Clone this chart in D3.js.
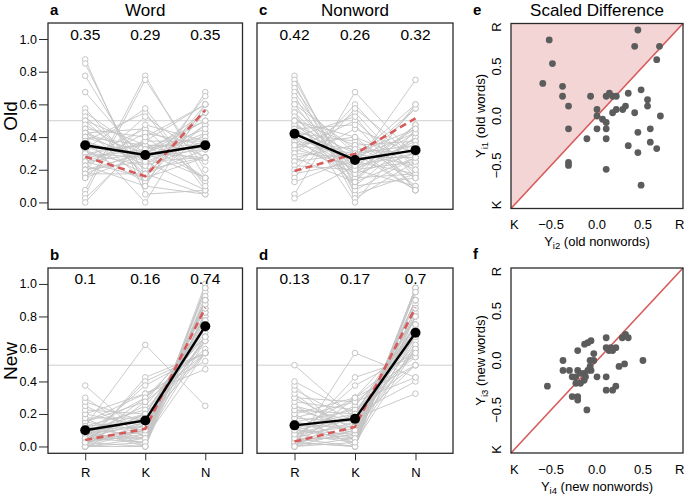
<!DOCTYPE html>
<html><head><meta charset="utf-8">
<script src="https://cdn.jsdelivr.net/npm/d3@7"></script>
<style>body{margin:0;background:#fff}svg{display:block;font-family:"Liberation Sans",Arial,Helvetica,sans-serif}</style>
</head><body><svg id="c" width="685" height="494"></svg>
<script>
// ---------- DATA ----------
const categories = ["R", "K", "N"];
const yTicks = [0, 0.2, 0.4, 0.6, 0.8, 1.0];

// Old words (panel a), per participant
const oldWordR = [.875,.85,.775,.675,.575,.55,.525,.5,.5,.475,.45,.45,.425,.425,.425,.4,.4,.4,.375,.375,.35,.35,.325,.325,.325,.3,.3,.3,.275,.275,.25,.25,.25,.225,.225,.2,.2,.2,.175,.175,.15,.15,.075,.05,.025,0];
const oldWordK = [.05,.1,.175,.25,.15,.3,.2,.35,.175,.25,.4,.125,.3,.225,.45,.35,0,.275,.55,.25,.3,.175,.575,.35,.125,.275,.35,.225,.325,.45,.375,.15,.3,.425,.1,.525,.3,.25,.325,.175,.475,.3,.775,.75,.375,.4];
const oldWordN = [.075,.05,.05,.075,.275,.15,.275,.15,.325,.275,.15,.425,.275,.35,.125,.25,.6,.325,.075,.375,.35,.475,.1,.325,.55,.425,.35,.475,.4,.275,.375,.6,.45,.35,.675,.275,.5,.55,.5,.65,.375,.55,.15,.2,.6,.6];
// Old nonwords (panel c)
const oldNonR = [.775,.75,.725,.7,.675,.65,.625,.6,.575,.55,.55,.525,.5,.5,.475,.475,.45,.45,.425,.425,.4,.4,.375,.375,.35,.35,.325,.325,.3,.3,.275,.275,.25,.25,.225,.2,.175,.15,.125,.05,.025,.6,.5,.45,.4,.35];
const oldNonK = [.05,.1,.025,.2,.15,.075,.3,.125,.25,0,.2,.175,.35,.1,.225,.3,.275,.15,.2,.375,.25,.125,.325,.2,.4,.175,.225,.5,.275,.55,.35,.125,.3,.45,.2,.6,.25,.575,.275,.675,.225,.325,.4,.475,.525,.3];
const oldNonN = [.175,.15,.25,.1,.175,.275,.075,.275,.175,.45,.25,.3,.15,.4,.3,.225,.275,.4,.375,.2,.35,.475,.3,.425,.25,.475,.45,.175,.425,.15,.375,.6,.45,.3,.575,.2,.575,.275,.6,.275,.75,.075,.1,.075,.075,.35];
// New words (panel b)
const newWordR = [0,0,0,.025,.025,.025,.05,.05,.05,.05,.075,.075,.075,.075,.1,.1,.1,.1,.125,.125,.125,.15,.15,.15,.175,.175,.2,.2,.225,.25,.275,.3,.375,0,.025,.05,.025,0,0,.025,.075,.05,.125,.1,0,.025];
const newWordK = [.025,.05,0,0,.1,.075,.05,.15,.2,.1,.125,.025,.25,.175,.075,.2,.3,.125,.05,.225,.15,.1,.275,.325,.175,0,.125,.325,.2,.075,.15,.05,.05,.425,.4,.375,.3,.275,.15,.125,.05,.025,.625,0,.1,.2];
const newWordN = [.975,.95,1,.975,.875,.9,.9,.8,.75,.85,.8,.9,.675,.75,.825,.7,.6,.775,.825,.65,.725,.75,.575,.525,.65,.825,.675,.475,.575,.675,.575,.65,.575,.575,.575,.575,.675,.725,.85,.85,.875,.925,.25,.9,.9,.775];
// New nonwords (panel d)
const newNonR = [0,0,.025,.025,.025,.05,.05,.05,.075,.075,.075,.1,.1,.1,.125,.125,.15,.15,.15,.175,.175,.2,.2,.225,.225,.25,.25,.275,.3,.3,.325,.35,.375,.4,.5,0,.025,.05,0,.025,0,.05,.075,.1,.125,0];
const newNonK = [.025,.05,0,.1,.075,.05,.15,.2,.125,.025,.25,.175,.075,.3,.2,.125,.05,.225,.1,.275,.15,0,.3,.2,.125,.075,.15,.225,.1,.275,.05,.15,.025,.2,.175,.575,.425,.375,.3,0,.1,0,.175,.05,.025,.2];
const newNonN = [.975,.95,.975,.875,.9,.9,.8,.75,.8,.9,.675,.725,.825,.6,.675,.75,.8,.625,.75,.55,.675,.8,.5,.575,.65,.675,.6,.5,.6,.425,.625,.5,.6,.4,.325,.425,.55,.575,.7,.975,.9,.95,.75,.85,.85,.8];

// Group means (black) and red dashed summary
const meanOldWord = [0.35, 0.29, 0.35];
const meanOldNon  = [0.42, 0.26, 0.32];
const meanNewWord = [0.10, 0.16, 0.74];
const meanNewNon  = [0.13, 0.17, 0.70];
const labelOldWord = ["0.35", "0.29", "0.35"];
const labelOldNon  = ["0.42", "0.26", "0.32"];
const labelNewWord = ["0.1", "0.16", "0.74"];
const labelNewNon  = ["0.13", "0.17", "0.7"];
const redOldWord = [0.28, 0.16, 0.565];
const redOldNon  = [0.193, 0.297, 0.515];
const redNewWord = [0.04, 0.108, 0.854];
const redNewNon  = [0.03, 0.12, 0.855];

// Scaled differences
const scTicks = [-0.9, -0.5, 0, 0.5, 0.9];
const scTickLabels = ["K", "\u22120.5", "0.0", "0.5", "R"];
const eX = [-0.52,0.445,0.41,0.68,0.65,-0.485,-0.59,-0.375,-0.375,-0.31,-0.31,-0.07,0,0,0,-0.11,-0.31,-0.31,0.06,0.10,0.10,0.10,0.10,0.10,0.135,0.17,0.21,0.17,0.21,0.28,0.31,0.34,0.34,0.41,0.445,0.445,0.48,0.55,0.55,0.69,0.58,0.58,0.65,0.48];
const eY = [0.77,0.87,0.705,0.705,0.57,0.53,0.33,0.30,0.20,0.10,-0.13,0.20,0.066,0,-0.13,-0.23,-0.47,-0.50,-0.033,-0.066,-0.13,-0.23,-0.54,0.20,0.23,0.20,0.20,0.033,0.066,0.066,0.10,0.23,-0.30,0.033,-0.165,-0.37,0.265,0.165,0.10,0,-0.13,-0.265,-0.33,-0.70];
const fX = [-0.54,-0.37,-0.37,-0.30,-0.27,-0.23,-0.21,-0.21,-0.27,-0.21,-0.21,-0.23,-0.18,-0.14,-0.14,-0.125,-0.18,-0.11,-0.135,-0.10,-0.065,-0.075,-0.035,-0.035,-0.075,-0.10,-0.065,0,0.10,0.10,0.10,0.10,0.17,0.205,0.13,0.17,0.205,0.24,0.275,0.31,0.34,0.30,0.50,0.15];
const fY = [-0.26,0,-0.10,-0.10,-0.165,-0.165,-0.10,0.10,-0.365,-0.365,-0.40,-0.23,-0.23,-0.20,-0.13,-0.165,-0.13,-0.50,0.165,0.18,0.20,0,0.07,0,-0.06,-0.10,-0.10,-0.165,0.23,0.13,-0.165,-0.30,-0.30,-0.26,0.10,0.10,0.13,-0.06,0.23,0.265,0.23,-0.035,0,0.13];

// ---------- DRAW ----------
const svg = d3.select("#c");
const GRAY = "#c4c4c4", RED = "#d75a5a", BOX = "#2b2b2b";

function linePanel(o) {
  const x = d3.scaleLinear().domain([0.38, 3.62]).range([o.x0, o.x1]);
  const y = d3.scaleLinear().domain([-0.042, 1.098]).range([o.y1, o.y0]);
  const g = svg.append("g");
  const clip = "clip" + o.id;
  g.append("clipPath").attr("id", clip).append("rect")
    .attr("x", o.x0).attr("y", o.y0).attr("width", o.x1 - o.x0).attr("height", o.y1 - o.y0);
  const inner = g.append("g").attr("clip-path", `url(#${clip})`);
  inner.append("line").attr("x1", o.x0).attr("x2", o.x1).attr("y1", y(0.5)).attr("y2", y(0.5))
    .attr("stroke", "#cfcfcf").attr("stroke-width", 1);
  const parts = o.R.map((r, i) => [r, o.K[i], o.N[i]]);
  const line = d3.line().x((d, i) => x(i + 1)).y(d => y(d));
  inner.selectAll("path.p").data(parts).join("path").attr("d", line)
    .attr("fill", "none").attr("stroke", GRAY).attr("stroke-width", 0.9);
  parts.forEach(p => {
    inner.selectAll(null).data(p).join("circle")
      .attr("cx", (d, i) => x(i + 1)).attr("cy", d => y(d)).attr("r", 2.8)
      .attr("fill", "#fff").attr("stroke", "#bdbdbd").attr("stroke-width", 0.9);
  });
  inner.append("path").datum(o.red).attr("d", line).attr("fill", "none")
    .attr("stroke", RED).attr("stroke-width", 2.6).attr("stroke-dasharray", "7,4.5");
  inner.append("path").datum(o.mean).attr("d", line).attr("fill", "none")
    .attr("stroke", "#000").attr("stroke-width", 2.4);
  inner.selectAll("circle.m").data(o.mean).join("circle").attr("class", "m")
    .attr("cx", (d, i) => x(i + 1)).attr("cy", d => y(d)).attr("r", 5).attr("fill", "#000");
  g.selectAll("text.lab").data(o.labels).join("text").attr("class", "lab")
    .attr("x", (d, i) => x(i + 1)).attr("y", y(1.0) + 0.5).attr("text-anchor", "middle")
    .attr("font-size", 15.5).attr("fill", "#000").text(d => d);
  g.append("rect").attr("x", o.x0).attr("y", o.y0).attr("width", o.x1 - o.x0).attr("height", o.y1 - o.y0)
    .attr("fill", "none").attr("stroke", BOX).attr("stroke-width", 1.3);
  if (o.yAxis) {
    const ax = g.append("g").attr("transform", `translate(${o.x0},0)`)
      .call(d3.axisLeft(y).tickValues(yTicks).tickFormat(d3.format(".1f")).tickSize(9).tickPadding(2));
    ax.select(".domain").remove();
    ax.selectAll("line").attr("stroke", BOX).attr("stroke-width", 1);
    ax.selectAll("text").attr("font-size", 12.5).attr("fill", "#000").attr("font-family", "Liberation Sans, Arial, sans-serif");
  }
  if (o.xAxis) {
    const ax = g.append("g").attr("transform", `translate(0,${o.y1})`)
      .call(d3.axisBottom(x).tickValues([1, 2, 3]).tickFormat((d, i) => categories[i]).tickSize(7).tickPadding(7));
    ax.select(".domain").remove();
    ax.selectAll("line").attr("stroke", BOX).attr("stroke-width", 1);
    ax.selectAll("text").attr("font-size", 13).attr("fill", "#000").attr("font-family", "Liberation Sans, Arial, sans-serif");
  }
  // panel letter and title
  g.append("text").attr("x", o.x0 + 2).attr("y", o.y0 - 8.5).attr("font-size", 15).attr("font-weight", "bold").text(o.letter);
  if (o.title) g.append("text").attr("x", (o.x0 + o.x1) / 2).attr("y", 15.6).attr("text-anchor", "middle")
    .attr("font-size", 17).text(o.title);
}

linePanel({id: "a", x0: 48, x1: 242.5, y0: 23, y1: 209.3, R: oldWordR, K: oldWordK, N: oldWordN,
  mean: meanOldWord, red: redOldWord, labels: labelOldWord, yAxis: true, xAxis: false, letter: "a", title: "Word"});
linePanel({id: "c", x0: 257, x1: 453, y0: 23, y1: 209.3, R: oldNonR, K: oldNonK, N: oldNonN,
  mean: meanOldNon, red: redOldNon, labels: labelOldNon, yAxis: false, xAxis: false, letter: "c", title: "Nonword"});
linePanel({id: "b", x0: 48, x1: 242.5, y0: 268, y1: 453.3, R: newWordR, K: newWordK, N: newWordN,
  mean: meanNewWord, red: redNewWord, labels: labelNewWord, yAxis: true, xAxis: true, letter: "b"});
linePanel({id: "d", x0: 257, x1: 453, y0: 268, y1: 453.3, R: newNonR, K: newNonK, N: newNonN,
  mean: meanNewNon, red: redNewNon, labels: labelNewNon, yAxis: false, xAxis: true, letter: "d"});

// row labels
[["Old", 116], ["New", 361]].forEach(([t, cy]) => {
  svg.append("text").attr("transform", `translate(17.4,${cy}) rotate(-90)`).attr("text-anchor", "middle")
    .attr("font-size", 19).text(t);
});

function scatterPanel(o) {
  const x = d3.scaleLinear().domain([-0.936, 0.936]).range([o.x0, o.x1]);
  const y = d3.scaleLinear().domain([-0.936, 0.936]).range([o.y1, o.y0]);
  const g = svg.append("g");
  if (o.shade) {
    g.append("path").attr("d", `M${x(-0.936)},${y(-0.936)}L${x(-0.936)},${y(0.936)}L${x(0.936)},${y(0.936)}Z`)
      .attr("fill", "#f3d5d5");
  }
  g.append("line").attr("x1", x(-0.936)).attr("y1", y(-0.936)).attr("x2", x(0.936)).attr("y2", y(0.936))
    .attr("stroke", RED).attr("stroke-width", 1.6);
  g.selectAll("circle").data(o.X).join("circle")
    .attr("cx", d => x(d)).attr("cy", (d, i) => y(o.Y[i])).attr("r", 3.4).attr("fill", "#5c5c5c");
  g.append("rect").attr("x", o.x0).attr("y", o.y0).attr("width", o.x1 - o.x0).attr("height", o.y1 - o.y0)
    .attr("fill", "none").attr("stroke", BOX).attr("stroke-width", 1.3);
  // x tick labels
  g.selectAll("text.xt").data(scTicks).join("text").attr("class", "xt")
    .attr("x", d => x(d)).attr("y", o.y1 + 20.5).attr("text-anchor", "middle").attr("font-size", 13)
    .text((d, i) => scTickLabels[i]);
  // y tick labels, rotated
  g.selectAll("text.yt").data(scTicks).join("text").attr("class", "yt")
    .attr("transform", d => `translate(${o.x0 - 10.5},${y(d)}) rotate(-90)`).attr("text-anchor", "middle")
    .attr("font-size", 13).text((d, i) => scTickLabels[i]);
  // axis titles
  const xt = g.append("text").attr("x", (o.x0 + o.x1) / 2).attr("y", o.y1 + 37.5).attr("text-anchor", "middle").attr("font-size", 13);
  xt.append("tspan").text("Y");
  xt.append("tspan").attr("font-size", 9.5).attr("dy", 3).text(o.xsub);
  xt.append("tspan").attr("dy", -3).text(" " + o.xlab);
  const yt = g.append("text").attr("transform", `translate(${o.x0 - 26},${(o.y0 + o.y1) / 2}) rotate(-90)`)
    .attr("text-anchor", "middle").attr("font-size", 13);
  yt.append("tspan").text("Y");
  yt.append("tspan").attr("font-size", 9.5).attr("dy", 3).text(o.ysub);
  yt.append("tspan").attr("dy", -3).text(" " + o.ylab);
  g.append("text").attr("x", 473).attr("y", o.y0 - 9).attr("font-size", 15).attr("font-weight", "bold").text(o.letter);
  if (o.title) g.append("text").attr("x", (o.x0 + o.x1) / 2).attr("y", 15.6).attr("text-anchor", "middle")
    .attr("font-size", 17).text(o.title);
}

scatterPanel({x0: 511, x1: 683, y0: 23.5, y1: 208.5, X: eX, Y: eY, shade: true, letter: "e", title: "Scaled Difference",
  xsub: "i2", xlab: "(old nonwords)", ysub: "i1", ylab: "(old words)"});
scatterPanel({x0: 511, x1: 683, y0: 268, y1: 453, X: fX, Y: fY, shade: false, letter: "f",
  xsub: "i4", xlab: "(new nonwords)", ysub: "i3", ylab: "(new words)"});
</script></body></html>
